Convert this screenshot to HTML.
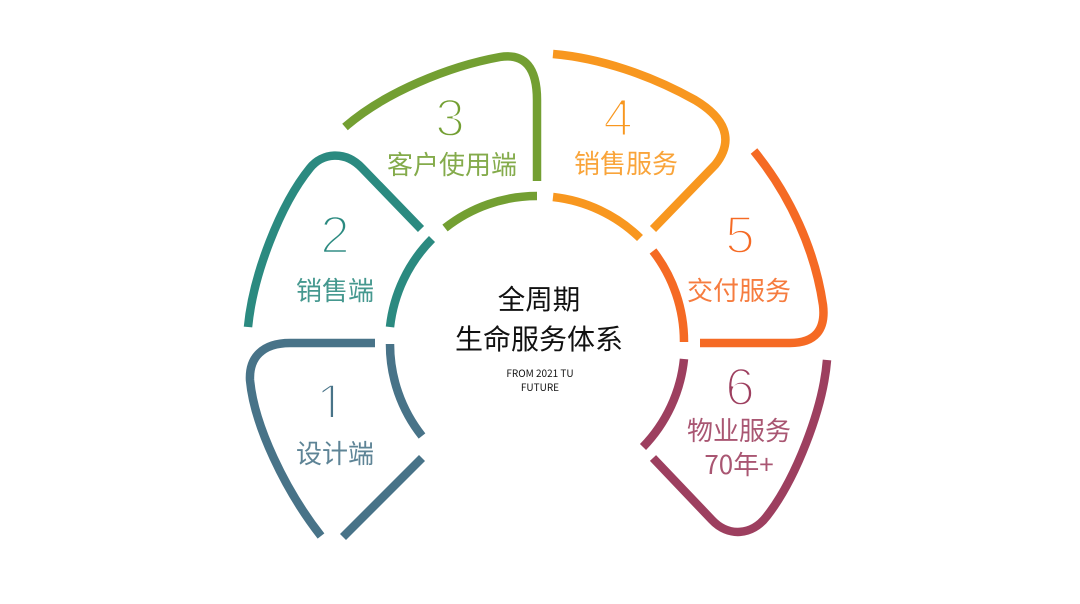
<!DOCTYPE html>
<html><head><meta charset="utf-8">
<style>
html,body{margin:0;padding:0;background:#fff}
svg{display:block}
.l{font-family:"Noto Sans CJK SC","Liberation Sans",sans-serif;font-size:26px;text-anchor:middle;font-weight:400;fill-opacity:.88}
.c{font-family:"Noto Sans CJK SC","Liberation Sans",sans-serif;text-anchor:middle;fill:#111;font-weight:400}
.n{font-family:"Liberation Sans",sans-serif;font-size:53px;text-anchor:middle;stroke:#fff;stroke-width:2.4px;paint-order:fill stroke}
path{fill:none;stroke-width:8.5}
</style></head><body>
<svg width="1080" height="604" viewBox="0 0 1080 604" xmlns="http://www.w3.org/2000/svg">
<defs><clipPath id="one"><rect x="320" y="380" width="30" height="37"/></clipPath></defs>
<g stroke="#487388">
<path d="M375 343 L290 343 C262 343 249 358 250 380 C254 425 285 490 321 536"/>
<path d="M422 458 L343 537"/>
<path d="M390 344 A148 148 0 0 0 422 436"/>
</g>
<g stroke="#2b8a80">
<path d="M248 327 C253 275 280 205 310 168 C322 153 345 150 362 168 L421 229"/>
<path d="M390 327 A148 148 0 0 1 432 239"/>
</g>
<g stroke="#739f32">
<path d="M345 127 C385 92 450 66 500 57 C525 53 537 68 537 100 L537 181"/>
<path d="M445 228 A148 148 0 0 1 537 196"/>
</g>
<g stroke="#f8971f">
<path d="M553 54 C600 58 650 75 695 100 C725 118 735 140 715 165 L653 229"/>
<path d="M553 197 A148 148 0 0 1 640 238"/>
</g>
<g stroke="#f56a24">
<path d="M754 151 C790 195 815 250 823 305 C826 330 815 343 790 343 L700 343"/>
<path d="M653 251 A148 148 0 0 1 684 342"/>
</g>
<g stroke="#9d3f5f">
<path d="M827 360 C823 410 795 480 767 516 C752 536 728 537 712 520 L653 458"/>
<path d="M684 359 A148 148 0 0 1 643 447"/>
</g>

<text class="n" x="331" y="421" fill="#487388" clip-path="url(#one)">1</text>
<text class="n" x="335" y="253" fill="#2b8a80">2</text>
<text class="n" x="450" y="136" fill="#739f32">3</text>
<text class="n" x="618" y="136" fill="#f8971f">4</text>
<text class="n" x="740" y="253" fill="#f56a24">5</text>
<text class="n" x="740" y="405" fill="#9d3f5f">6</text>

<text class="l" x="335" y="463" fill="#487388">设计端</text>
<text class="l" x="335" y="300" fill="#2b8a80">销售端</text>
<text class="l" x="452" y="174" fill="#739f32">客户使用端</text>
<text class="l" x="626" y="173" fill="#f8971f">销售服务</text>
<text class="l" x="739" y="300" fill="#f56a24">交付服务</text>
<text class="l" x="739" y="440" fill="#9d3f5f">物业服务</text>
<text class="l" x="739" y="474" fill="#9d3f5f">70年+</text>

<text class="c" x="539" y="309" font-size="27.5">全周期</text>
<text class="c" x="539" y="349" font-size="28">生命服务体系</text>
<text class="c" x="540" y="377" font-size="10">FROM 2021 TU</text>
<text class="c" x="540" y="391" font-size="10">FUTURE</text>
</svg>
</body></html>
